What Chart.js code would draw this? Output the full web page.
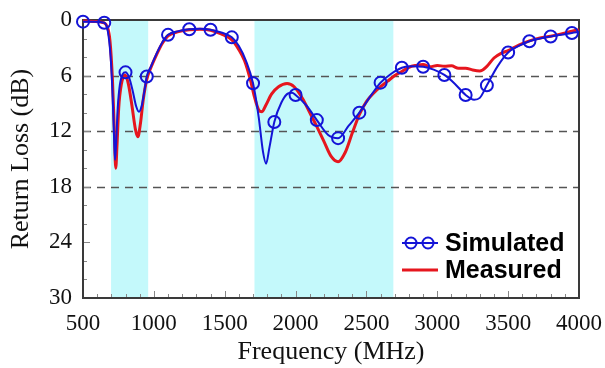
<!DOCTYPE html>
<html><head><meta charset="utf-8">
<script src="https://cdn.jsdelivr.net/npm/chart.js@4/dist/chart.umd.min.js"></script>
<style>html,body{margin:0;padding:0;background:#fff;}#wrap{width:605px;height:368px;}</style>
</head><body><div id="wrap"><canvas id="c" width="605" height="368"></canvas></div>
<script>
const simFreq = [500,575,650,675,695,710,720,726,733,745,760,780,800,825,850,875,895,915,935,950,980,1020,1060,1100,1175,1250,1325,1400,1475,1550,1600,1650,1700,1740,1770,1792,1815,1850,1900,1950,1975,2000,2075,2150,2230,2300,2375,2450,2525,2600,2675,2750,2825,2900,2975,3050,3125,3200,3260,3300,3350,3425,3500,3575,3650,3725,3800,3875,3950,4000];
const simDb   = [0.18,0.2,0.3,1.2,4.0,8.5,13.0,15.1,13.5,9.5,7.0,5.85,5.65,6.2,7.6,9.3,9.9,9.2,7.5,6.1,5.0,3.6,2.4,1.6,1.2,1.0,0.95,1.05,1.35,1.87,2.8,4.4,6.83,10.5,14.2,15.5,13.8,11.0,8.9,7.9,7.85,8.1,9.2,10.8,12.4,12.75,11.4,10.0,8.3,6.76,5.8,5.15,5.0,5.04,5.35,5.93,6.9,8.09,8.6,8.4,7.05,5.0,3.5,2.8,2.3,2.0,1.78,1.6,1.4,1.3];
const simMarkerFreq = [500,650,800,950,1100,1250,1400,1550,1700,1850,2000,2150,2300,2450,2600,2750,2900,3050,3200,3350,3500,3650,3800,3950];
const measFreq = [500,575,650,670,690,708,720,731,740,752,770,797,820,845,870,887,905,925,950,980,1020,1060,1100,1175,1250,1325,1400,1475,1550,1600,1640,1680,1710,1740,1763,1790,1830,1880,1940,1990,2050,2100,2150,2200,2250,2300,2350,2400,2450,2500,2550,2600,2650,2700,2750,2800,2850,2900,2950,3000,3050,3100,3150,3200,3250,3300,3350,3400,3450,3500,3575,3650,3725,3800,3875,3950,4000];
const measDb   = [0.1,0.15,0.3,0.7,2.2,6.5,11.5,16.0,13.5,9.5,7.0,5.93,6.9,9.2,11.8,12.6,11.2,8.6,6.4,5.1,3.7,2.5,1.7,1.25,1.05,1.0,1.1,1.5,2.15,3.2,4.4,6.4,8.3,9.7,9.9,9.2,8.0,7.2,6.85,7.2,8.5,10.0,11.5,13.1,14.7,15.3,14.3,12.2,10.2,8.8,7.9,7.2,6.6,6.0,5.55,5.1,4.9,4.8,5.05,4.9,5.0,4.95,5.2,5.2,5.4,5.5,5.0,4.1,3.6,3.3,2.7,2.25,1.95,1.75,1.5,1.2,1.05];
const bandRanges = [[698,960],[1710,2690]];
const xTickValues = [500,1000,1500,2000,2500,3000,3500,4000];
const yTickValues = [0,6,12,18,24,30];
const dashedDb = [6,12,18];
const seriesNames = ['Simulated','Measured'];
const xTitle = 'Frequency (MHz)';
const yTitle = 'Return Loss (dB)';

const BLUE = 'rgb(20,20,215)';
const RED = 'rgb(230,22,30)';
const markerSet = new Set(simMarkerFreq);
const simPts = simFreq.map((f,i)=>({x:f,y:simDb[i]}));
const measPts = measFreq.map((f,i)=>({x:f,y:measDb[i]}));

const decor = {
  id:'decor',
  beforeDatasetsDraw(chart){
    const {ctx, chartArea:a, scales:{x,y}} = chart;
    ctx.save();
    ctx.fillStyle = 'rgb(196,249,251)';
    bandRanges.forEach(([s,e])=>{
      const x0=x.getPixelForValue(s), x1=x.getPixelForValue(e);
      ctx.fillRect(x0,a.top,x1-x0,a.bottom-a.top);
    });
    ctx.strokeStyle='#555'; ctx.lineWidth=1.6; ctx.setLineDash([8,6]);
    dashedDb.forEach(v=>{
      const py=Math.round(y.getPixelForValue(v))+0.5;
      ctx.beginPath(); ctx.moveTo(a.left,py); ctx.lineTo(a.right,py); ctx.stroke();
    });
    ctx.setLineDash([]);
    ctx.strokeStyle='#888'; ctx.lineWidth=1;
    for(let f=600; f<4000; f+=100){
      const px=Math.round(x.getPixelForValue(f))+0.5;
      const len = (f%500===0)?7:4;
      ctx.beginPath(); ctx.moveTo(px,a.bottom); ctx.lineTo(px,a.bottom-len); ctx.stroke();
    }
    for(let v=2; v<30; v+=2){
      const py=Math.round(y.getPixelForValue(v))+0.5;
      const len = (v%6===0)?7:4;
      ctx.beginPath(); ctx.moveTo(a.left,py); ctx.lineTo(a.left+len,py); ctx.stroke();
    }
    ctx.strokeStyle='#3a3a3a'; ctx.lineWidth=2;
    ctx.strokeRect(a.left,a.top,a.right-a.left,a.bottom-a.top);
    ctx.restore();
  },
  afterDraw(chart){
    const {ctx} = chart;
    ctx.save();
    const lx0=402, lx1=438, tx=445, y1=243, y2=270;
    ctx.strokeStyle=BLUE; ctx.lineWidth=2;
    ctx.beginPath(); ctx.moveTo(lx0,y1); ctx.lineTo(lx1,y1); ctx.stroke();
    [411,428].forEach(cx=>{ctx.beginPath(); ctx.arc(cx,y1,5.5,0,Math.PI*2); ctx.stroke();});
    ctx.strokeStyle=RED; ctx.lineWidth=3;
    ctx.beginPath(); ctx.moveTo(lx0,y2); ctx.lineTo(lx1,y2); ctx.stroke();
    ctx.fillStyle='#000'; ctx.font='bold 25px "Liberation Sans", Arial, sans-serif';
    ctx.textBaseline='middle'; ctx.textAlign='left';
    ctx.fillText(seriesNames[0],tx,y1+1);
    ctx.fillText(seriesNames[1],tx,y2+1);
    ctx.restore();
  }
};

const serif = '"Liberation Serif", "Times New Roman", serif';
new Chart(document.getElementById('c'),{
  type:'line',
  data:{datasets:[
    {label:seriesNames[0], data:simPts, borderColor:BLUE, borderWidth:2, cubicInterpolationMode:'monotone',
     pointRadius:(c)=> (c.raw && markerSet.has(c.raw.x)) ? 6 : 0, pointBorderColor:BLUE, pointBorderWidth:2,
     pointBackgroundColor:'rgba(255,255,255,0)', order:0, fill:false, clip:8},
    {label:seriesNames[1], data:measPts, borderColor:RED, borderWidth:3, cubicInterpolationMode:'monotone',
     pointRadius:0, order:1, fill:false, clip:2}
  ]},
  options:{
    responsive:false, animation:false, devicePixelRatio:1,
    layout:{padding:{top:20,right:26,left:0,bottom:0}},
    plugins:{legend:{display:false}, tooltip:{enabled:false}},
    scales:{
      x:{type:'linear', min:500, max:4000,
        afterBuildTicks:(s)=>{s.ticks=xTickValues.map(v=>({value:v}));},
        afterFit:(s)=>{s.height=70; s.paddingLeft=0; s.paddingRight=0;},
        grid:{display:false, drawTicks:false},
        border:{display:false},
        ticks:{color:'#111', padding:12, callback:(v)=>String(v), font:{family:serif, size:23}, maxRotation:0, autoSkip:false},
        title:{display:true, text:xTitle, color:'#111', padding:{top:0,bottom:0}, font:{family:serif, size:26, lineHeight:1.2}}
      },
      y:{type:'linear', min:0, max:30, reverse:true,
        afterBuildTicks:(s)=>{s.ticks=yTickValues.map(v=>({value:v}));},
        afterFit:(s)=>{s.width=83; s.paddingTop=0; s.paddingBottom=0;},
        grid:{display:false, drawTicks:false},
        border:{display:false},
        ticks:{color:'#111', padding:11, callback:(v)=>String(v), font:{family:serif, size:23}, autoSkip:false},
        title:{display:true, text:yTitle, color:'#111', padding:{top:6,bottom:0}, font:{family:serif, size:26, lineHeight:1.2}}
      }
    }
  },
  plugins:[decor]
});
</script></body></html>
